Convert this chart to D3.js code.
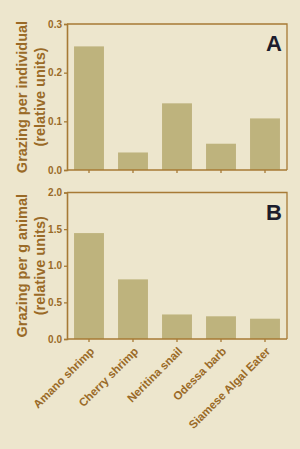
<!DOCTYPE html>
<html>
<head>
<meta charset="utf-8">
<script src="https://cdn.jsdelivr.net/npm/d3@7"></script>
<style>
body { margin:0; background:#ede6cd; }
svg { display:block; }
</style>
</head>
<body>
<svg width="300" height="449"></svg>
<script>
// data
var species = ['Amano shrimp', 'Cherry shrimp', 'Neritina snail', 'Odessa barb', 'Siamese Algal Eater']
var perIndividual = [0.254, 0.036, 0.137, 0.054, 0.106]
var perGram = [1.446, 0.814, 0.335, 0.31, 0.277]
var ticksA = [0.0, 0.1, 0.2, 0.3]
var ticksB = [0.0, 0.5, 1.0, 1.5, 2.0]

var axisCol = '#a77a35', textCol = '#9a6a27', barCol = '#beb37d'
var svg = d3.select('svg')
svg.append('rect').attr('width', 300).attr('height', 449).attr('fill', '#ede6cd')

var x = d3.scaleBand().domain(species).range([67, 287]).paddingInner(0.32).paddingOuter(0.16)

function panel(vals, ticks, max, top, bottom, letter, title1) {
    var y = d3.scaleLinear().domain([0, max]).range([bottom, top])
    var g = svg.append('g')
    // frame
    g.append('path')
	.attr('d', 'M67,' + top + 'H287V' + bottom)
	.attr('fill', 'none').attr('stroke', axisCol).attr('stroke-width', 1.3)
    g.selectAll('rect.bar').data(vals).enter().append('rect')
	.attr('class', 'bar')
	.attr('x', function(d, i) { return x(species[i]) })
	.attr('width', x.bandwidth())
	.attr('y', function(d) { return y(d) })
	.attr('height', function(d) { return bottom - y(d) })
	.attr('fill', barCol)
    var ya = g.append('g').attr('transform', 'translate(67,0)')
	.call(d3.axisLeft(y).tickValues(ticks).tickFormat(d3.format('.1f')).tickSize(3).tickPadding(2))
    var xa = g.append('g').attr('transform', 'translate(0,' + bottom + ')')
	.call(d3.axisBottom(x).tickSize(3).tickFormat(''))
    ;[ya, xa].forEach(function(a) {
	a.select('.domain').attr('stroke', axisCol).attr('stroke-width', 1.6)
	a.selectAll('line').attr('stroke', axisCol).attr('stroke-width', 1.3)
	a.selectAll('text').attr('fill', textCol)
	    .style('font', 'bold 10px "Liberation Sans", Arial, sans-serif')
    })
    xa.select('.domain').attr('d', 'M67,0H287')
    var mid = (top + bottom) / 2
    g.append('text')
	.attr('transform', 'translate(26.5,' + mid + ') rotate(-90)')
	.attr('text-anchor', 'middle').attr('fill', textCol)
	.style('font', 'bold 14.5px "Liberation Sans", Arial, sans-serif')
	.text(title1)
    g.append('text')
	.attr('transform', 'translate(44.5,' + mid + ') rotate(-90)')
	.attr('text-anchor', 'middle').attr('fill', textCol)
	.style('font', 'bold 14.5px "Liberation Sans", Arial, sans-serif')
	.text('(relative units)')
    g.append('text')
	.attr('x', 282).attr('y', top + 27)
	.attr('text-anchor', 'end').attr('fill', '#1c1c2c')
	.style('font', 'bold 22px "Liberation Sans", Arial, sans-serif')
	.text(letter)
    return xa
}

panel(perIndividual, ticksA, 0.3, 24, 170, 'A', 'Grazing per individual')
panel(perGram, ticksB, 2.0, 192.5, 339, 'B', 'Grazing per g animal')

svg.selectAll('text.xl').data(species).enter().append('text')
    .attr('class', 'xl')
    .attr('transform', function(d) { return 'translate(' + (x(d) + x.bandwidth() / 2 + 6) + ',352) rotate(-45)' })
    .attr('text-anchor', 'end').attr('fill', textCol)
    .style('font', 'bold 11.5px "Liberation Sans", Arial, sans-serif')
    .text(function(d) { return d })
</script>
</body>
</html>
